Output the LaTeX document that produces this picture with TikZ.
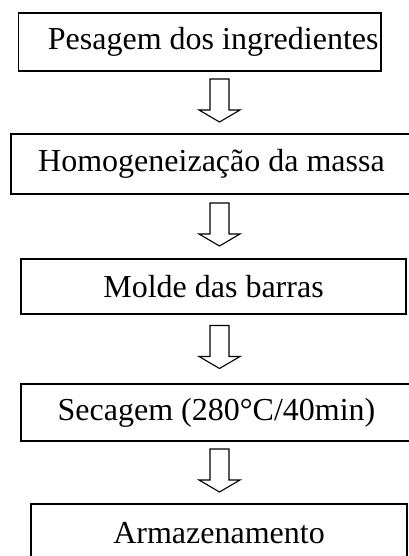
\documentclass[tikz,border=0pt]{standalone}
\usepackage{fontspec}
\setmainfont{Liberation Serif}
\usetikzlibrary{calc}

\begin{document}
\begin{tikzpicture}[x=1pt,y=1pt,
  etapa/.style={draw,line width=1.3pt,rectangle,inner sep=0pt,font=\fontsize{32}{38}\selectfont},
  seta/.style={draw,line width=1.1pt,fill=white}]
  \useasboundingbox (0,0) rectangle (408,556);
  \node[etapa,minimum width=362.5,minimum height=58] (pesagem) at (199.75,514) {\hspace*{27pt}Pesagem dos ingredientes};
  \node[etapa,minimum width=401,minimum height=60] (homog) at (211.5,392) {Homogeneização da massa};
  \node[etapa,minimum width=385,minimum height=55] (molde) at (213.5,269.5) {Molde das barras};
  \node[etapa,minimum width=391,minimum height=57] (secagem) at (216.5,143.5) {Secagem (280°C/40min)};
  \node[etapa,minimum width=376,minimum height=58] (armaz) at (219,23) {Armazenamento};
  \foreach \a/\b in {pesagem/homog,homog/molde,molde/secagem,secagem/armaz}
  	\draw[seta] let \p1=(\a.south), \p2=(\b.north), \n1={(\y1+\y2)/2+2} in
  	  (210,{\n1+21.5}) -- (210,{\n1-9.5}) -- (199,{\n1-9.5}) -- (219.5,{\n1-21.5})
  	  -- (240,{\n1-9.5}) -- (229,{\n1-9.5}) -- (229,{\n1+21.5}) -- cycle;
\end{tikzpicture}
\end{document}
